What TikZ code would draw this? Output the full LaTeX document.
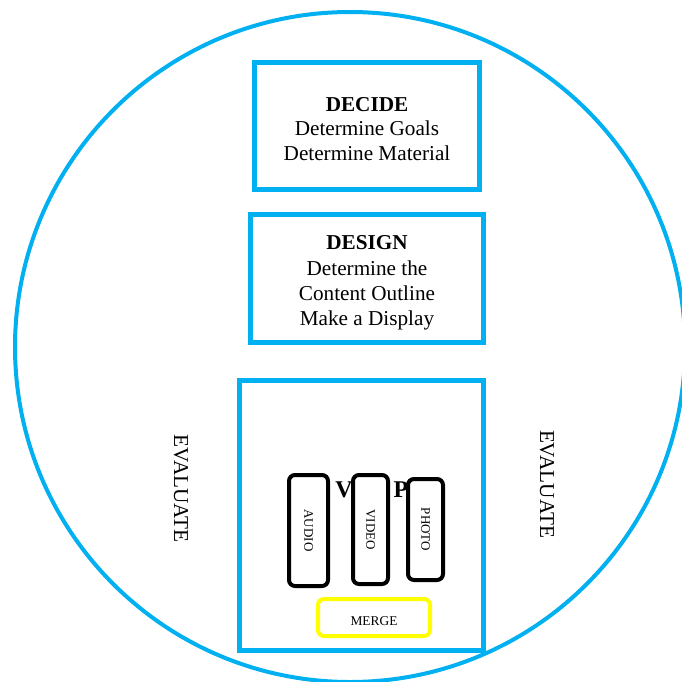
\documentclass[tikz,border=0pt]{standalone}
\usepackage{fontspec}
\setmainfont{Liberation Serif}
\definecolor{wordblue}{HTML}{00B0F0}
\definecolor{wordyellow}{HTML}{FFFF00}
\begin{document}
\begin{tikzpicture}[x=0.5pt,y=-0.5pt,
		stage/.style={draw=wordblue,line width=2.5pt,fill=white,align=center,inner sep=0pt,font=\fontsize{10.6}{12.4}\selectfont},
		media/.style={draw=black,line width=2pt,rounded corners=3pt,fill=white,rotate=-90,inner sep=0pt,font=\fontsize{6.5}{7}\selectfont},
		side/.style={rotate=-90,font=\fontsize{10.6}{12}\selectfont}]
			\useasboundingbox (0,0) rectangle (682,682);
			\draw[wordblue,line width=2pt] (350,347) circle (335);
			% the three stages
			\node[stage,minimum width=112.5pt,minimum height=63.5pt] (decide) at (367,126)
				{\rule{0pt}{10pt}\textbf{DECIDE}\\Determine Goals\\Determine Material};
			\node[stage,minimum width=116.5pt,minimum height=64pt,font=\fontsize{10.6}{12.6}\selectfont] (design) at (367,278.5)
				{\rule{0pt}{11.5pt}\textbf{DESIGN}\\Determine the\\Content Outline\\Make a Display};
			\node[stage,minimum width=122pt,minimum height=135pt] (develop) at (361.5,515.5) {};
			\path (344,490) node[font=\fontsize{12}{12}\selectfont\bfseries] (v) {V}
				(401,490) node[font=\fontsize{12}{12}\selectfont\bfseries] (p) {P};
			% media inside the develop box
			\foreach \n/\x/\y/\w/\h in {audio/308.5/530.5/55.5/19.5,video/370.5/529.5/54.5/17.5,photo/425.5/529.5/50.5/17.5}
				\node[media,minimum width=\w pt,minimum height=\h pt] (\n) at (\x,\y) {\MakeUppercase{\n}};
			\node[draw=wordyellow,line width=2pt,rounded corners=3pt,fill=white,minimum width=56pt,minimum height=18.5pt,inner sep=0pt,font=\fontsize{6.7}{7}\selectfont] (merge) at (374,617.5) {\rule{0pt}{8pt}MERGE};
			\node[side] (evall) at (181,488.5) {EVALUATE};
			\node[side] (evalr) at (547,484) {EVALUATE};
\end{tikzpicture}
\end{document}
